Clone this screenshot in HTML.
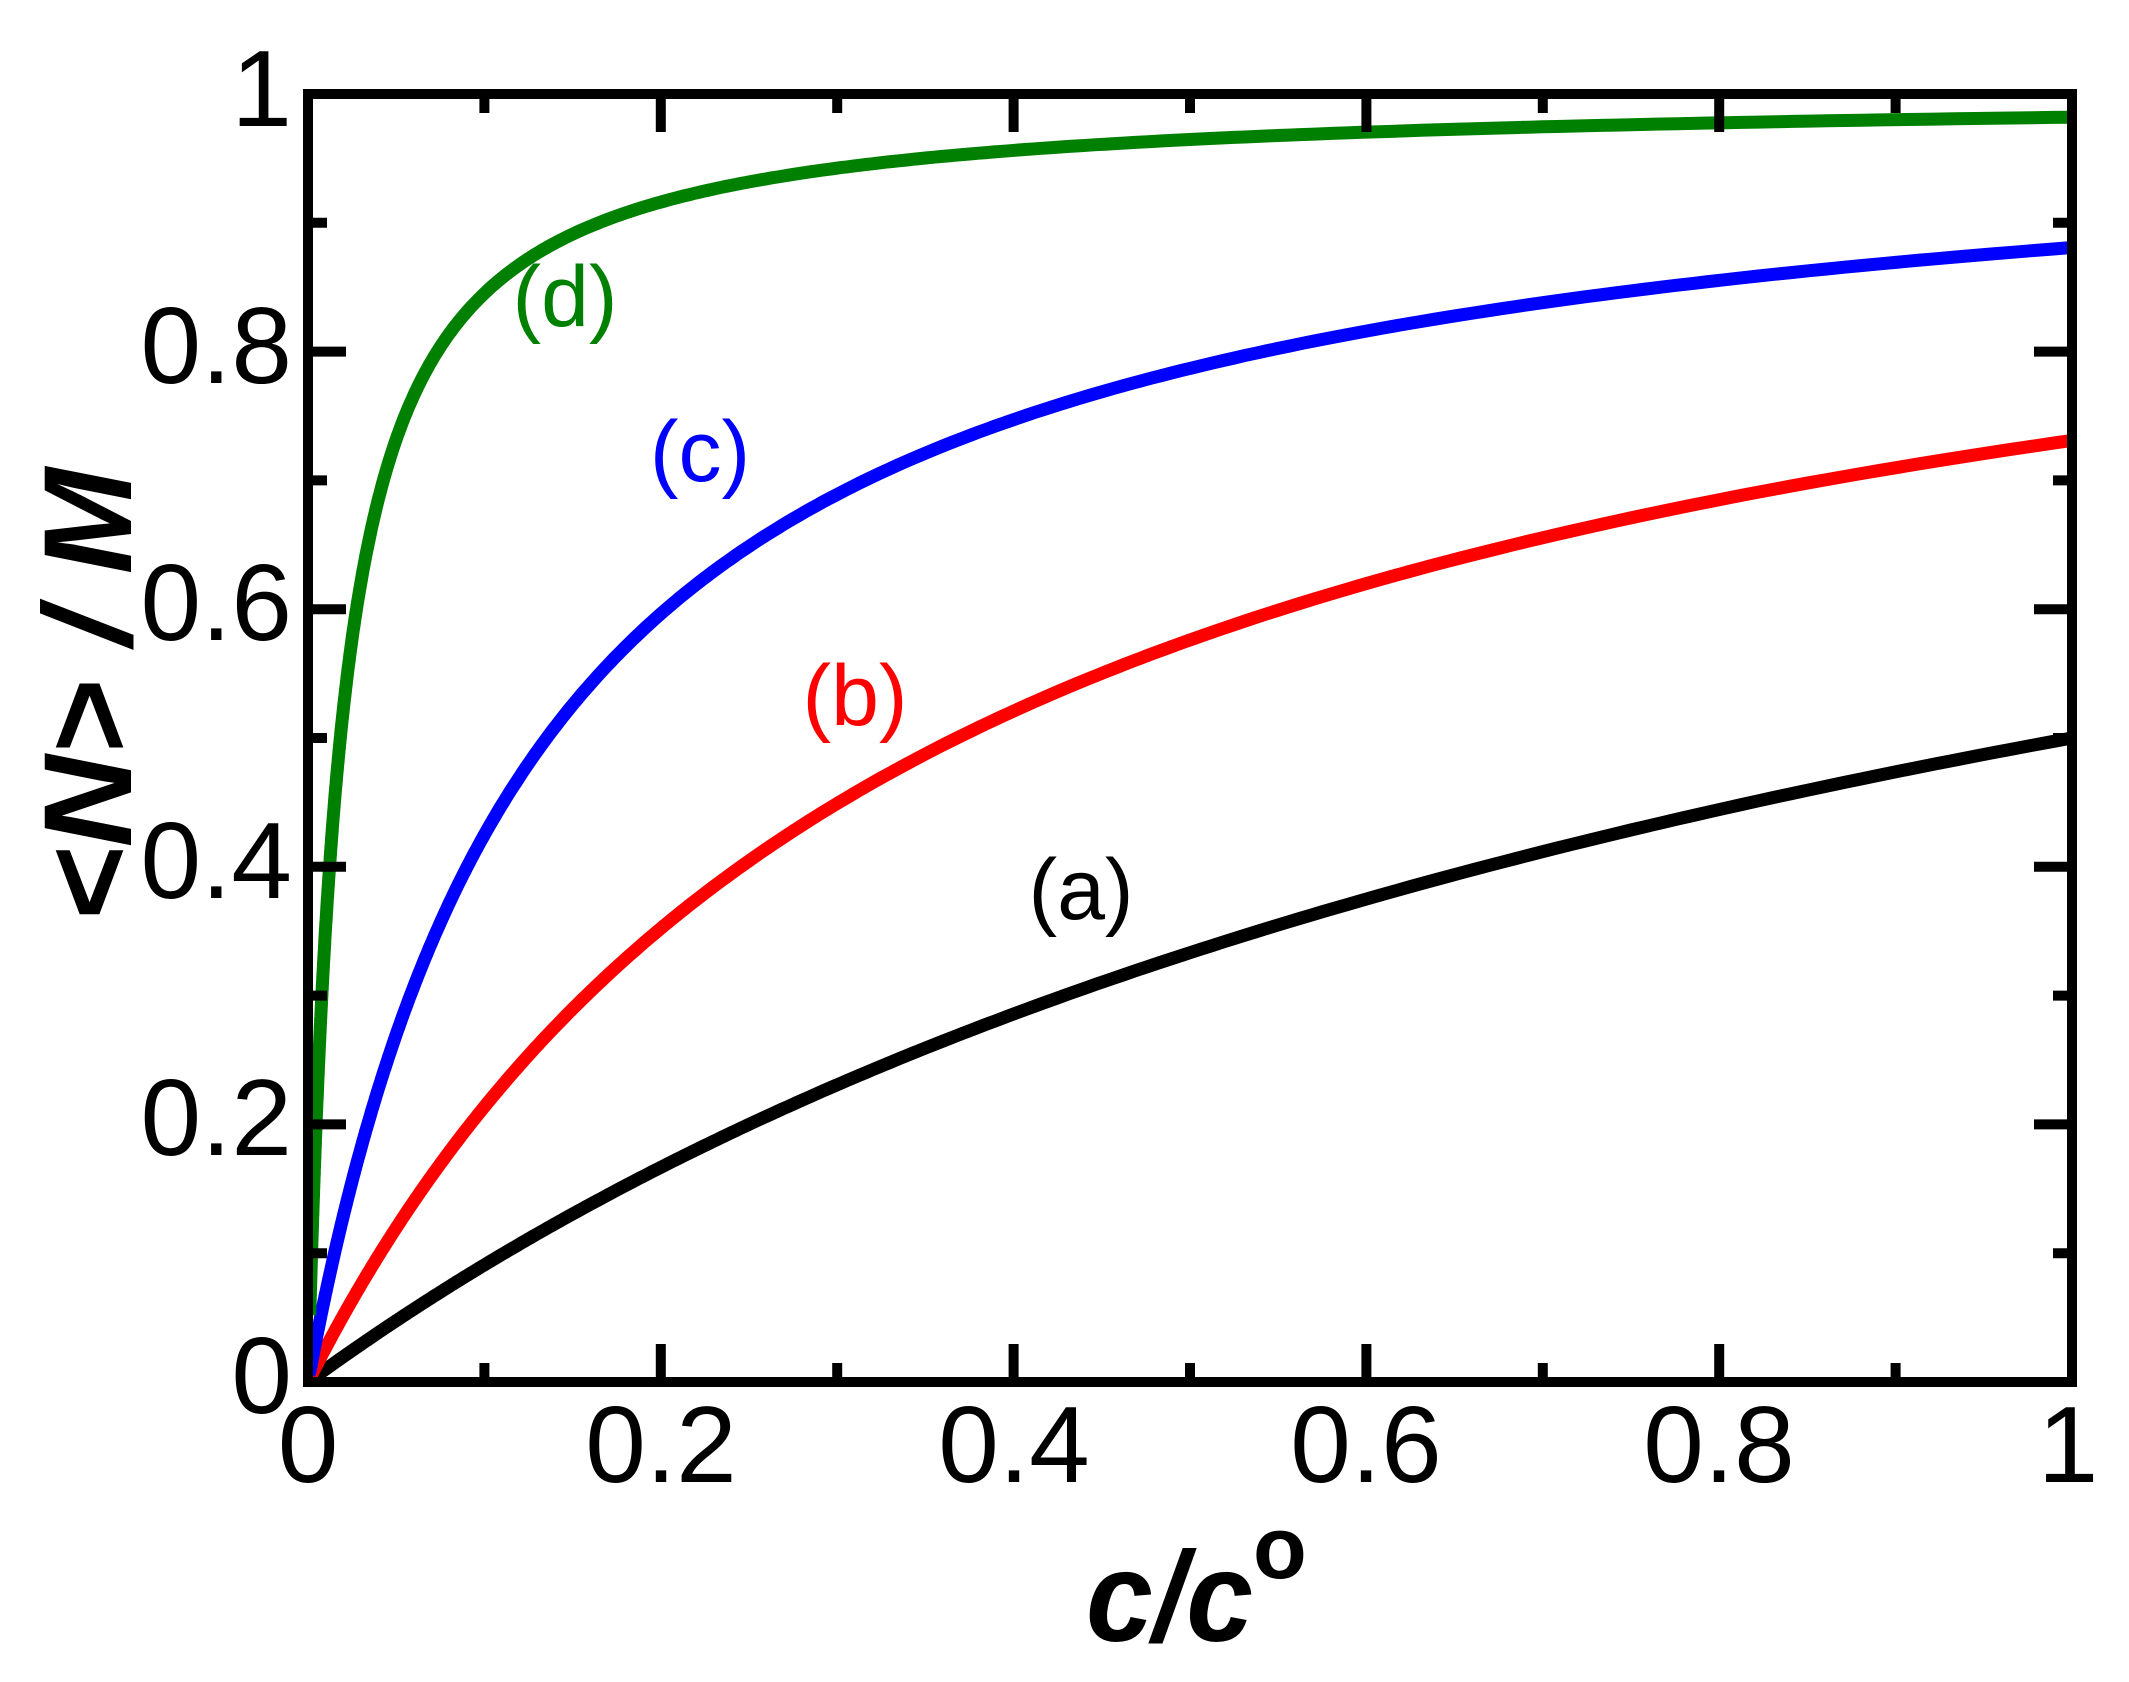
<!DOCTYPE html>
<html><head><meta charset="utf-8"><style>
html,body{margin:0;padding:0;background:#fff;}
svg{display:block;}
text{font-family:"Liberation Sans",Arial,sans-serif;}
</style></head><body>
<svg id="s" width="2129" height="1682" viewBox="0 0 2129 1682" xmlns="http://www.w3.org/2000/svg">
<rect width="2129" height="1682" fill="#fff"/>
<g id="curves" fill="none" stroke-width="13" stroke-linejoin="round"></g>
<g id="ticks" stroke="#000" stroke-width="10"></g>
<rect x="308" y="94" width="1764" height="1288" fill="none" stroke="#000" stroke-width="10"/>
<g font-size="109" fill="#000" text-anchor="end">
<text x="292" y="1413">0</text>
<text x="292" y="1155">0.2</text>
<text x="292" y="898">0.4</text>
<text x="292" y="640">0.6</text>
<text x="292" y="383">0.8</text>
<text x="292" y="126">1</text>
</g>
<g font-size="109" fill="#000" text-anchor="middle">
<text x="308" y="1482">0</text>
<text x="661" y="1482">0.2</text>
<text x="1014" y="1482">0.4</text>
<text x="1366" y="1482">0.6</text>
<text x="1719" y="1482">0.8</text>
<text x="2068" y="1482">1</text>
</g>
<g font-size="86" text-anchor="middle">
<text x="565" y="326" fill="#008000">(d)</text>
<text x="700" y="481" fill="#0000ff">(c)</text>
<text x="855" y="725" fill="#ff0000">(b)</text>
<text x="1081" y="919" fill="#000">(a)</text>
</g>
<text x="1086" y="1641" font-size="128" font-weight="bold" font-style="italic" textLength="167" lengthAdjust="spacingAndGlyphs">c/c</text>
<text x="1253" y="1578" font-size="88" font-weight="bold">o</text>
<text transform="translate(131,695) rotate(-90)" text-anchor="middle" font-size="125" font-weight="bold" font-style="italic" textLength="454" lengthAdjust="spacingAndGlyphs">&lt;N&gt; / M</text>
</svg>
<script>
(function(){
var L=308,R=2072,T=94,B=1382,W=R-L,H=B-T;
function X(x){return L+x*W;} function Y(y){return B-y*H;}
var Ks=[[1,"#000"],[Math.E,"#ff0000"],[Math.E*Math.E,"#0000ff"],[Math.exp(4),"#008000"]];
var g=document.getElementById("curves"),ns="http://www.w3.org/2000/svg";
Ks.forEach(function(k){
 var d="",n=0;
 for(var i=0;i<=600;i++){
  var x=0.001*Math.pow(1000,i/600);
  var y=k[0]*x/(1+k[0]*x);
  d+=(n++?"L":"M")+X(x).toFixed(1)+" "+Y(y).toFixed(1);
 }
 var p=document.createElementNS(ns,"path");
 p.setAttribute("d",d);p.setAttribute("stroke",k[1]);g.appendChild(p);
});
var t=document.getElementById("ticks"),s="";
for(var i=1;i<10;i++){
 var len=(i%2==0)?38:19;
 var x=X(i/10),y=Y(i/10);
 s+="M"+x+" "+B+"V"+(B-len)+"M"+x+" "+T+"V"+(T+len);
 s+="M"+L+" "+y+"H"+(L+len)+"M"+R+" "+y+"H"+(R-len);
}
var p=document.createElementNS(ns,"path");p.setAttribute("d",s);t.appendChild(p);
})();
</script>
</body></html>
